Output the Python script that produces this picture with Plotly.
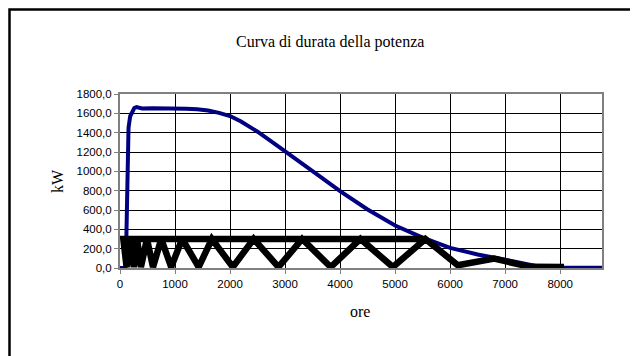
import plotly.graph_objects as go

# Blue series: power duration curve (hours, kW)
blue_hours = [0, 100, 115, 135, 155, 185, 220, 260, 300, 400, 600, 800, 1000, 1200, 1400, 1600,
              1800, 2000, 2200, 2500, 2800, 3000, 3300, 3600, 4000, 4500, 5000, 5500, 6000,
              6500, 7000, 7300, 7600, 8000, 8760]
blue_kw = [0, 0, 300, 1200, 1450, 1570, 1620, 1655, 1665, 1650, 1652, 1653, 1650, 1648, 1642, 1630,
           1605, 1572, 1515, 1410, 1290, 1205, 1080, 960, 795, 605, 440, 315, 208,
           140, 85, 45, 15, 6, 3]

# Black series (hours, kW)
black_hours = [5560, 60, 120, 180, 250, 310, 380, 490, 600, 750, 930, 1130, 1430, 1670, 2050,
               2430, 2880, 3310, 3830, 4370, 4960, 5550, 6140, 6800, 7450, 8070]
black_kw = [300, 300, 10, 300, 10, 300, 10, 300, 10, 300, 10, 300, 10, 300, 10,
            300, 10, 300, 10, 300, 10, 300, 28, 97, 12, 10]

y_ticks = [0, 200, 400, 600, 800, 1000, 1200, 1400, 1600, 1800]
x_ticks = [0, 1000, 2000, 3000, 4000, 5000, 6000, 7000, 8000]

title_text = "Curva di durata della potenza"
x_title = "ore"
y_title = "kW"

# the page body has an 8px margin, so the figure is placed at (8, 8)
OFF = 8
W, H = 638 - OFF, 356 - OFF
L, T = 120 - OFF, 94 - OFF
R = W - (602 - OFF)
B = H - (268 - OFF)
pw, ph = W - L - R, H - T - B

def px_x(p):
    # p in window pixels
    return (p - OFF - L) / pw

def px_y(p):
    return (H - B - (p - OFF)) / ph

fig = go.Figure()
fig.add_trace(go.Scatter(x=blue_hours, y=blue_kw, mode="lines",
                         line=dict(color="#000080", width=4), showlegend=False))
fig.add_trace(go.Scatter(x=black_hours, y=black_kw, mode="lines",
                         line=dict(color="#000000", width=6.5), showlegend=False))

serif = "Liberation Serif, Times New Roman, serif"
sans = "Liberation Sans, Arial, sans-serif"

fig.update_layout(
    width=W, height=H,
    margin=dict(l=L, r=R, t=T, b=B, pad=0),
    paper_bgcolor="white", plot_bgcolor="white",
    separators=",.",
    showlegend=False,
    font=dict(family=sans, size=11.5, color="black"),
    annotations=[
        dict(text=title_text, x=px_x(329.5), y=px_y(41.5), xref="paper", yref="paper",
             showarrow=False, font=dict(family=serif, size=16, color="black"),
             xanchor="center", yanchor="middle"),
        dict(text=x_title, x=px_x(360), y=px_y(311.5), xref="paper", yref="paper",
             showarrow=False, font=dict(family=serif, size=16, color="black"),
             xanchor="center", yanchor="middle"),
        dict(text=y_title, x=px_x(57), y=px_y(181), xref="paper", yref="paper",
             showarrow=False, textangle=-90, font=dict(family=serif, size=16, color="black"),
             xanchor="center", yanchor="middle"),
    ],
    shapes=[
        dict(type="path", xref="paper", yref="paper",
             path=f"M {px_x(9.5)},{px_y(370)} L {px_x(9.5)},{px_y(9.5)} L {px_x(636.5)},{px_y(9.5)} L {px_x(636.5)},{px_y(370)}",
             line=dict(color="black", width=2.5), layer="above"),
    ],
)

fig.update_xaxes(range=[0, 8760], tickvals=x_ticks, tickformat="d",
                 showgrid=True, gridcolor="black", gridwidth=1,
                 showline=True, linecolor="#808080", linewidth=2, mirror=True,
                 ticks="outside", ticklen=4, tickcolor="#808080", tickwidth=1,
                 zeroline=False, tickfont=dict(family=sans, size=11.5, color="black"))
fig.update_yaxes(range=[0, 1800], tickvals=y_ticks, tickformat=".1f",
                 showgrid=True, gridcolor="black", gridwidth=1,
                 showline=True, linecolor="#808080", linewidth=2, mirror=True,
                 ticks="outside", ticklen=4, tickcolor="#808080", tickwidth=1,
                 zeroline=False, tickfont=dict(family=sans, size=11.5, color="black"))

fig.write_html("out.html")
